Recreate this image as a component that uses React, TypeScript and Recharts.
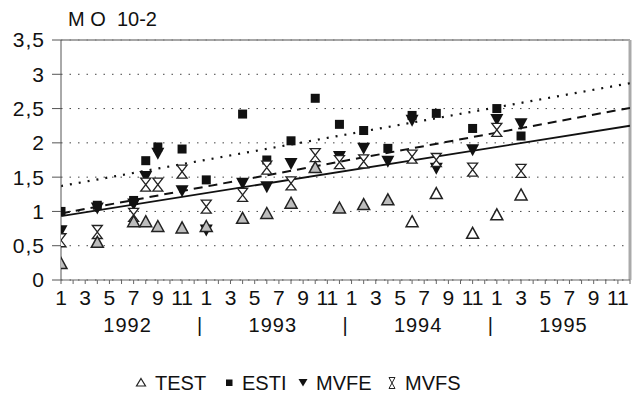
import { ComposedChart, Scatter, Line, XAxis, YAxis, CartesianGrid, ReferenceLine } from 'recharts'

const FONT = '"Liberation Sans", Arial, Helvetica, sans-serif'

// axis labels
const yearLabels = ['1992', '1993', '1994', '1995']
const monthTicks = Array.from({ length: 48 }, (_, i) => i + 1)
const yearTicks = [6.5, 12.5, 18.5, 24.5, 30.5, 36.5, 42.5]
const yTicks = [0, 0.5, 1, 1.5, 2, 2.5, 3, 3.5]

// TEST (open triangles)
const testMonths = [1, 4, 7, 8, 9, 11, 13, 16, 18, 20, 22, 24, 26, 28, 30, 32, 35, 37, 39]
const testValues = [0.24, 0.55, 0.85, 0.85, 0.78, 0.76, 0.78, 0.9, 0.97, 1.12, 1.64, 1.05, 1.1, 1.17, 0.85, 1.26, 0.68, 0.95, 1.24]

// ESTI (squares)
const estiMonths = [1, 4, 7, 8, 9, 11, 13, 16, 18, 20, 22, 24, 26, 28, 30, 32, 35, 37, 39]
const estiValues = [1.0, 1.09, 1.16, 1.74, 1.94, 1.91, 1.46, 2.42, 1.75, 2.03, 2.65, 2.27, 2.18, 1.92, 2.4, 2.43, 2.21, 2.5, 2.1]

// MVFE (filled down triangles)
const mvfeMonths = [1, 4, 7, 8, 9, 11, 13, 16, 18, 20, 24, 26, 28, 30, 32, 35, 37, 39]
const mvfeValues = [0.72, 1.05, 1.11, 1.51, 1.85, 1.3, 0.73, 1.41, 1.36, 1.7, 1.8, 1.92, 1.73, 2.33, 1.63, 1.9, 2.34, 2.28]

// MVFS (hourglass)
const mvfsMonths = [1, 4, 7, 8, 9, 11, 13, 16, 18, 20, 22, 24, 26, 30, 32, 35, 37, 39]
const mvfsValues = [0.58, 0.7, 0.95, 1.39, 1.39, 1.58, 1.07, 1.24, 1.64, 1.41, 1.82, 1.72, 1.73, 1.8, 1.75, 1.61, 2.19, 1.59]

// trend lines (start / end)
const trendMonths = [1, 48]
const solidTrend = [0.93, 2.25]
const dashedTrend = [0.97, 2.51]
const dottedTrend = [1.37, 2.87]

const zip = (ms: number[], vs: number[]) => ms.map((m, i) => ({ m, v: vs[i] }))

const testData = zip(testMonths, testValues)
const estiData = zip(estiMonths, estiValues)
const mvfeData = zip(mvfeMonths, mvfeValues)
const mvfsData = zip(mvfsMonths, mvfsValues)

const TestShape = (p: any) => {
  const { cx, cy, payload } = p
  return (
    <path
      d={`M${cx},${cy - 6} L${cx + 6},${cy + 5} L${cx - 6},${cy + 5} Z`}
      fill={payload.m < 30 ? '#bdbdbd' : '#fff'}
      stroke="#222"
      strokeWidth={1.5}
    />
  )
}

const EstiShape = (p: any) => <rect x={p.cx - 4.5} y={p.cy - 4.5} width={9} height={9} fill="#111" />

const MvfeShape = (p: any) => {
  const { cx, cy } = p
  return <path d={`M${cx - 6.5},${cy - 5.5} L${cx + 6.5},${cy - 5.5} L${cx},${cy + 6.5} Z`} fill="#111" />
}

const MvfsShape = (p: any) => {
  const { cx, cy } = p
  return (
    <path
      d={`M${cx - 5},${cy - 6.5} L${cx + 5},${cy - 6.5} L${cx},${cy} Z M${cx - 5},${cy + 6.5} L${cx + 5},${cy + 6.5} L${cx},${cy} Z`}
      fill="#fff"
      stroke="#222"
      strokeWidth={1.3}
    />
  )
}

const MonthTick = ({ x, y, payload }: any) => {
  const m = payload.value
  if (m % 2 === 0) return <g />
  return (
    <text x={x} y={y + 19} textAnchor="middle" fontSize={21} fontFamily={FONT} fill="#111">
      {((m - 1) % 12) + 1}
    </text>
  )
}

const YearTick = ({ x, y, payload }: any) => {
  const v = payload.value
  const idx = (v - 6.5) / 12
  const isYear = Number.isInteger(idx)
  return (
    <text x={x} y={y + 20} textAnchor="middle" fontSize={20} fontFamily={FONT} fill="#111" letterSpacing={1}>
      {isYear ? yearLabels[idx] : '|'}
    </text>
  )
}

const legendItems = [
  { label: 'TEST', symX: 141, textX: 155, sym: <path d="M6,2.5 L10.5,10 L1.5,10 Z" fill="#fff" stroke="#222" strokeWidth={1.2} /> },
  { label: 'ESTI', symX: 229, textX: 242, sym: <rect x={3} y={3.5} width={6.5} height={6.5} fill="#111" /> },
  { label: 'MVFE', symX: 303, textX: 316, sym: <path d="M1.5,3 L10.5,3 L6,10.5 Z" fill="#111" /> },
  { label: 'MVFS', symX: 392, textX: 405, sym: <path d="M3,1.5 L9,1.5 L6,7 Z M3,12.5 L9,12.5 L6,7 Z" fill="#fff" stroke="#222" strokeWidth={1} /> },
]

const Legend = () => (
  <div style={{ position: 'absolute', top: 372, left: 0, width: 637, height: 24, fontFamily: FONT, fontSize: 20, color: '#111' }}>
    {legendItems.map((it) => (
      <div key={it.label}>
        <svg width={12} height={14} style={{ position: 'absolute', left: it.symX - 6, top: 4 }}>{it.sym}</svg>
        <span style={{ position: 'absolute', left: it.textX, top: 0 }}>{it.label}</span>
      </div>
    ))}
  </div>
)

export default function App() {
  return (
    <div style={{ position: 'absolute', left: 0, top: 0, width: 637, height: 401, background: '#fff' }}>
      <div
        style={{
          position: 'absolute',
          left: 68,
          top: 8,
          fontFamily: FONT,
          fontSize: 20,
          color: '#111',
          whiteSpace: 'pre',
        }}
      >
        M O  10-2
      </div>
      <ComposedChart width={637} height={401} margin={{ top: 40, right: 7, left: 0, bottom: 59 }}>
        <CartesianGrid vertical={false} stroke="#444" strokeDasharray="1.5 7" />
        <XAxis
          dataKey="m"
          type="number"
          domain={[1, 48]}
          ticks={monthTicks}
          interval={0}
          tick={<MonthTick />}
          tickSize={4}
          tickMargin={2}
          stroke="#666"
          height={30}
          allowDataOverflow
        />
        <XAxis
          xAxisId="yr"
          dataKey="m"
          type="number"
          domain={[1, 48]}
          ticks={yearTicks}
          interval={0}
          tick={<YearTick />}
          tickLine={false}
          axisLine={false}
          tickSize={0}
          height={32}
          allowDataOverflow
        />
        <YAxis
          type="number"
          domain={[0, 3.5]}
          ticks={yTicks}
          width={61}
          tickSize={9}
          tickMargin={7}
          stroke="#555"
          tick={{ fontSize: 21, fill: '#111', fontFamily: FONT, letterSpacing: 1 }}
          tickFormatter={(v: number) => String(v).replace('.', ',')}
          allowDataOverflow
        />
        <ReferenceLine y={3.5} stroke="#888" strokeWidth={1.5} />
        <ReferenceLine x={48} stroke="#aaa" strokeWidth={3} />
        <Line data={zip(trendMonths, solidTrend)} dataKey="v" stroke="#111" strokeWidth={1.8} dot={false} isAnimationActive={false} />
        <Line data={zip(trendMonths, dashedTrend)} dataKey="v" stroke="#111" strokeWidth={2} strokeDasharray="9 6" dot={false} isAnimationActive={false} />
        <Line data={zip(trendMonths, dottedTrend)} dataKey="v" stroke="#111" strokeWidth={2.2} strokeDasharray="2 7" dot={false} isAnimationActive={false} />
        <Scatter data={mvfeData} dataKey="v" shape={MvfeShape} isAnimationActive={false} />
        <Scatter data={estiData} dataKey="v" shape={EstiShape} isAnimationActive={false} />
        <Scatter data={mvfsData} dataKey="v" shape={MvfsShape} isAnimationActive={false} />
        <Scatter data={testData} dataKey="v" shape={TestShape} isAnimationActive={false} />
      </ComposedChart>
      <Legend />
    </div>
  )
}
